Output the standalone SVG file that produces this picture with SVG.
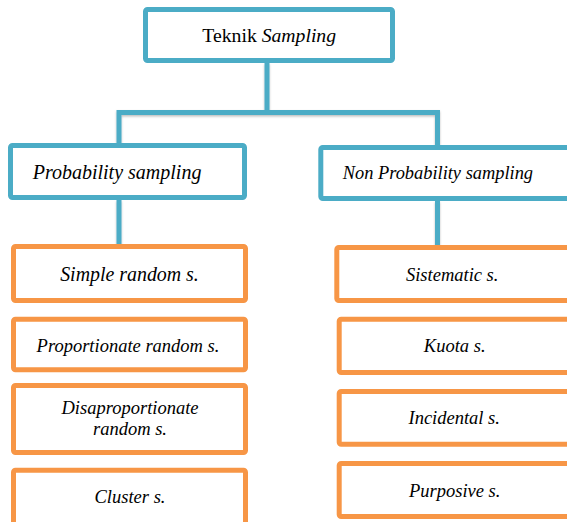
<svg xmlns="http://www.w3.org/2000/svg" width="567" height="522" viewBox="0 0 567 522">
<defs>
<filter id="sh" x="-10%" y="-10%" width="120%" height="130%">
<feDropShadow dx="0" dy="1.5" stdDeviation="1" flood-color="#000" flood-opacity="0.25"/>
</filter>
</defs>
<style>
.b{fill:#fff;stroke:#4BACC6;stroke-width:5}
.o{fill:#fff;stroke:#F79646;stroke-width:5}
.c{fill:none;stroke:#4BACC6;stroke-width:5}
.i{font-style:italic}
.m{text-anchor:middle}
</style>
<rect width="567" height="522" fill="#fff"/>
<g id="connectors" filter="url(#sh)">
<path class="c" d="M267,63 V112.5 M116.5,112.5 H440 M119,110 V143 M437.5,110 V145 M119,200 V244 M437.5,201 V245"/>
</g>
<g font-family="Liberation Serif, DejaVu Serif, serif" font-size="18.5" fill="#000">
<g id="teknik">
<rect class="b" x="145.5" y="9.5" width="247" height="51" rx="2"/>
<text class="m" x="269.2" y="41.7" font-size="19.7">Teknik <tspan class="i">Sampling</tspan></text>
</g>
<g id="probability">
<rect class="b" x="10.5" y="145.5" width="234" height="52" rx="2"/>
<text class="i" x="32.7" y="179" font-size="20">Probability sampling</text>
</g>
<g id="nonprobability">
<rect class="b" x="320.8" y="147.5" width="260" height="51" rx="2"/>
<text class="i" x="342.7" y="179" font-size="18.4">Non Probability sampling</text>
</g>
<g id="simple">
<rect class="o" x="13.5" y="246.5" width="232" height="54" rx="2"/>
<text class="i m" x="129.5" y="280.7" font-size="19.9">Simple random s.</text>
</g>
<g id="proportionate">
<rect class="o" x="13.5" y="319.2" width="232" height="50.6" rx="2"/>
<text class="i m" x="128" y="352">Proportionate random s.</text>
</g>
<g id="disaproportionate">
<rect class="o" x="13.5" y="385.5" width="232" height="67" rx="2"/>
<text class="i m" x="130" y="414">Disaproportionate</text>
<text class="i m" x="130" y="435">random s.</text>
</g>
<g id="cluster">
<rect class="o" x="13.5" y="470.2" width="232" height="60" rx="2"/>
<text class="i m" x="130" y="503">Cluster s.</text>
</g>
<g id="sistematic">
<rect class="o" x="336.8" y="247.5" width="240" height="53" rx="2"/>
<text class="i m" x="452.2" y="280.7">Sistematic s.</text>
</g>
<g id="kuota">
<rect class="o" x="339.2" y="319.2" width="240" height="53.3" rx="2"/>
<text class="i m" x="454.7" y="352">Kuota s.</text>
</g>
<g id="incidental">
<rect class="o" x="339.2" y="391.5" width="240" height="52.7" rx="2"/>
<text class="i m" x="454.2" y="424">Incidental s.</text>
</g>
<g id="purposive">
<rect class="o" x="339.2" y="463.5" width="240" height="53" rx="2"/>
<text class="i m" x="454.7" y="497">Purposive s.</text>
</g>
</g>
</svg>
